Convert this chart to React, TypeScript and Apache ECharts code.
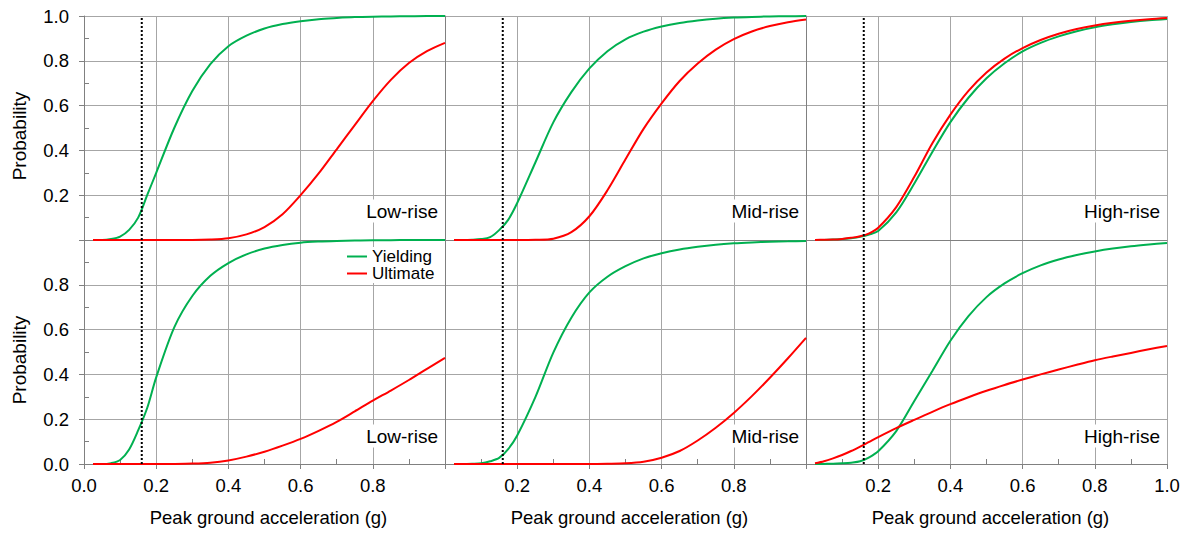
import { useEffect, useRef } from 'react';
import * as echarts from 'echarts';

// Peak ground acceleration sample points (g)
const pga = [0.025, 0.05, 0.075, 0.1, 0.125, 0.15, 0.175, 0.2, 0.25, 0.3, 0.35, 0.4, 0.45, 0.5, 0.55, 0.6, 0.65, 0.7, 0.75, 0.8, 0.85, 0.9, 0.95, 1.0];

// Top row
const lowYieldTop = [0, 0, 0.004, 0.015, 0.045, 0.1, 0.2, 0.3, 0.5, 0.665, 0.785, 0.865, 0.912, 0.944, 0.964, 0.977, 0.986, 0.991, 0.995, 0.997, 0.998, 0.999, 1.0, 1.0];
const lowUltTop = [0, 0, 0, 0, 0, 0, 0, 0, 0, 0, 0.002, 0.008, 0.025, 0.058, 0.115, 0.2, 0.297, 0.405, 0.513, 0.62, 0.715, 0.79, 0.843, 0.88];
const midYieldTop = [0, 0, 0.001, 0.004, 0.013, 0.044, 0.09, 0.165, 0.345, 0.525, 0.66, 0.766, 0.843, 0.896, 0.93, 0.953, 0.969, 0.98, 0.988, 0.993, 0.996, 0.998, 0.999, 1.0];
const midUltTop = [0, 0, 0, 0, 0, 0, 0, 0, 0.001, 0.006, 0.035, 0.106, 0.222, 0.36, 0.496, 0.61, 0.71, 0.788, 0.85, 0.897, 0.931, 0.955, 0.972, 0.984];
const highYieldTop = [0, 0.0005, 0.002, 0.004, 0.008, 0.014, 0.024, 0.04, 0.123, 0.252, 0.393, 0.526, 0.635, 0.722, 0.789, 0.842, 0.88, 0.909, 0.932, 0.95, 0.963, 0.973, 0.981, 0.987];
const highUltTop = [0, 0.001, 0.002, 0.005, 0.01, 0.017, 0.03, 0.055, 0.147, 0.282, 0.432, 0.56, 0.666, 0.748, 0.81, 0.857, 0.893, 0.921, 0.942, 0.958, 0.97, 0.979, 0.986, 0.991];

// Bottom row
const lowYieldBot = [0, 0, 0.004, 0.018, 0.065, 0.15, 0.25, 0.387, 0.61, 0.75, 0.84, 0.897, 0.936, 0.962, 0.978, 0.988, 0.993, 0.996, 0.998, 0.999, 0.999, 1.0, 1.0, 1.0];
const lowUltBot = [0, 0, 0, 0, 0, 0, 0, 0, 0.0005, 0.002, 0.006, 0.016, 0.033, 0.055, 0.082, 0.112, 0.148, 0.188, 0.235, 0.283, 0.328, 0.375, 0.425, 0.474];
const midYieldBot = [0, 0, 0.001, 0.003, 0.012, 0.027, 0.066, 0.127, 0.297, 0.497, 0.653, 0.766, 0.836, 0.883, 0.918, 0.941, 0.958, 0.97, 0.979, 0.985, 0.989, 0.992, 0.994, 0.996];
const midUltBot = [0, 0, 0, 0, 0, 0, 0, 0, 0, 0, 0, 0, 0.001, 0.003, 0.01, 0.028, 0.058, 0.105, 0.162, 0.228, 0.303, 0.385, 0.472, 0.563];
const highYieldBot = [0, 0.0005, 0.001, 0.003, 0.006, 0.012, 0.03, 0.057, 0.147, 0.281, 0.415, 0.55, 0.66, 0.745, 0.806, 0.852, 0.887, 0.913, 0.933, 0.949, 0.962, 0.972, 0.98, 0.987];
const highUltBot = [0.003, 0.012, 0.025, 0.04, 0.058, 0.078, 0.099, 0.12, 0.16, 0.197, 0.233, 0.267, 0.298, 0.327, 0.353, 0.377, 0.4, 0.422, 0.443, 0.463, 0.48, 0.496, 0.512, 0.527];

const yieldSeries = [lowYieldTop, midYieldTop, highYieldTop, lowYieldBot, midYieldBot, highYieldBot];
const ultSeries = [lowUltTop, midUltTop, highUltTop, lowUltBot, midUltBot, highUltBot];

const panelNames = ['Low-rise', 'Mid-rise', 'High-rise'];
const seriesNames = ['Yielding', 'Ultimate'];
const thresholdPga = 0.16;

const xTickLabels = [
  ['0.0', '0.2', '0.4', '0.6', '0.8'],
  ['0.2', '0.4', '0.6', '0.8'],
  ['0.2', '0.4', '0.6', '0.8', '1.0'],
];
const yTickLabels = [
  ['0.2', '0.4', '0.6', '0.8', '1.0'],
  ['0.0', '0.2', '0.4', '0.6', '0.8'],
];

const xTitle = 'Peak ground acceleration (g)';
const yTitle = 'Probability';

const GREEN = '#00b050';
const RED = '#ff0000';
const GRID_C = '#a6a6a6';
const AXIS_C = '#808080';
const FONT = '"Liberation Sans", Arial, Helvetica, sans-serif';
const FS = 18.5;

const COL_LEFT = [84, 445, 806];
const PANEL_W = 361;
const ROW_TOP = [16, 240];
const PANEL_H = 224;

export default function App() {
  const ref = useRef<HTMLDivElement>(null);

  useEffect(() => {
    if (!ref.current) return;
    const chart = echarts.init(ref.current, undefined, { renderer: 'svg' });

    const grids: any[] = [];
    const xAxes: any[] = [];
    const yAxes: any[] = [];
    const series: any[] = [];
    const graphics: any[] = [];

    for (let row = 0; row < 2; row++) {
      for (let col = 0; col < 3; col++) {
        const i = row * 3 + col;
        grids.push({ left: COL_LEFT[col], top: ROW_TOP[row], width: PANEL_W, height: PANEL_H, containLabel: false });
        const xl = xTickLabels[col];
        xAxes.push({
          gridIndex: i,
          type: 'value',
          min: 0,
          max: 1,
          interval: 0.2,
          axisLine: { show: true, onZero: false, lineStyle: { color: AXIS_C, width: 1 } },
          axisTick: { show: row === 1, length: 5, lineStyle: { color: AXIS_C } },
          minorTick: { show: row === 1, splitNumber: 2, length: -5, lineStyle: { color: AXIS_C } },
          axisLabel: {
            show: row === 1,
            margin: 12,
            color: '#000',
            fontFamily: FONT,
            fontSize: FS,
            formatter: (v: number) => {
              const s = v.toFixed(1);
              return xl.includes(s) ? s : '';
            },
          },
          splitLine: { show: true, lineStyle: { color: GRID_C, width: 1 } },
          name: row === 1 ? xTitle : '',
          nameLocation: 'middle',
          nameGap: 44,
          nameTextStyle: { color: '#000', fontFamily: FONT, fontSize: FS, padding: [0, 0, 0, 8] },
        });
        const yl = yTickLabels[row];
        yAxes.push({
          gridIndex: i,
          type: 'value',
          min: 0,
          max: 1,
          interval: 0.2,
          axisLine: { show: true, onZero: false, lineStyle: { color: AXIS_C, width: 1 } },
          axisTick: { show: col === 0, length: 5, lineStyle: { color: AXIS_C } },
          minorTick: { show: col === 0, splitNumber: 2, length: -5, lineStyle: { color: AXIS_C } },
          axisLabel: {
            show: col === 0,
            margin: 15,
            color: '#000',
            fontFamily: FONT,
            fontSize: FS,
            formatter: (v: number) => {
              const s = v.toFixed(1);
              return yl.includes(s) ? s : '';
            },
          },
          splitLine: { show: true, lineStyle: { color: GRID_C, width: 1 } },
        });

        series.push({
          type: 'line',
          name: seriesNames[0],
          xAxisIndex: i,
          yAxisIndex: i,
          data: pga.map((x, k) => [x, yieldSeries[i][k]]),
          symbol: 'none',
          showSymbol: false,
          smooth: 0.3,
          lineStyle: { color: GREEN, width: 2 },
          itemStyle: { color: GREEN },
          z: 3,
        });
        series.push({
          type: 'line',
          name: seriesNames[1],
          xAxisIndex: i,
          yAxisIndex: i,
          data: pga.map((x, k) => [x, ultSeries[i][k]]),
          symbol: 'none',
          showSymbol: false,
          smooth: 0.3,
          lineStyle: { color: RED, width: 2 },
          itemStyle: { color: RED },
          z: 4,
        });
        series.push({
          type: 'line',
          name: 'threshold',
          xAxisIndex: i,
          yAxisIndex: i,
          data: [[thresholdPga, 0], [thresholdPga, 1]],
          symbol: 'none',
          showSymbol: false,
          silent: true,
          lineStyle: { color: '#000', width: 2, type: [2, 2] },
          z: 5,
        });

        graphics.push({
          type: 'text',
          x: COL_LEFT[col] + PANEL_W - 4,
          y: row === 0 ? 211 : 436,
          z: 10,
          style: {
            text: panelNames[col],
            align: 'right',
            verticalAlign: 'middle',
            fontFamily: FONT,
            fontSize: 19,
            fill: '#000',
            backgroundColor: '#fff',
            padding: [2, 3, 2, 3],
          },
        });
      }
      graphics.push({
        type: 'text',
        x: 19,
        y: row === 0 ? 136 : 360,
        rotation: Math.PI / 2,
        z: 10,
        style: {
          text: yTitle,
          align: 'center',
          verticalAlign: 'middle',
          fontFamily: FONT,
          fontSize: 19,
          fill: '#000',
        },
      });
    }

    chart.setOption({
      animation: false,
      backgroundColor: '#fff',
      grid: grids,
      xAxis: xAxes,
      yAxis: yAxes,
      series,
      graphic: graphics,
      legend: {
        show: true,
        data: seriesNames,
        orient: 'vertical',
        left: 347,
        top: 247,
        itemWidth: 20,
        itemHeight: 2,
        itemGap: 0,
        icon: 'rect',
        selectedMode: false,
        backgroundColor: '#fff',
        padding: [1, 4, 1, 0],
        textStyle: { fontFamily: FONT, fontSize: 17, color: '#000' },
      },
    });

    return () => chart.dispose();
  }, []);

  return <div ref={ref} style={{ position: 'absolute', left: 0, top: 0, width: 1190, height: 536 }} />;
}
